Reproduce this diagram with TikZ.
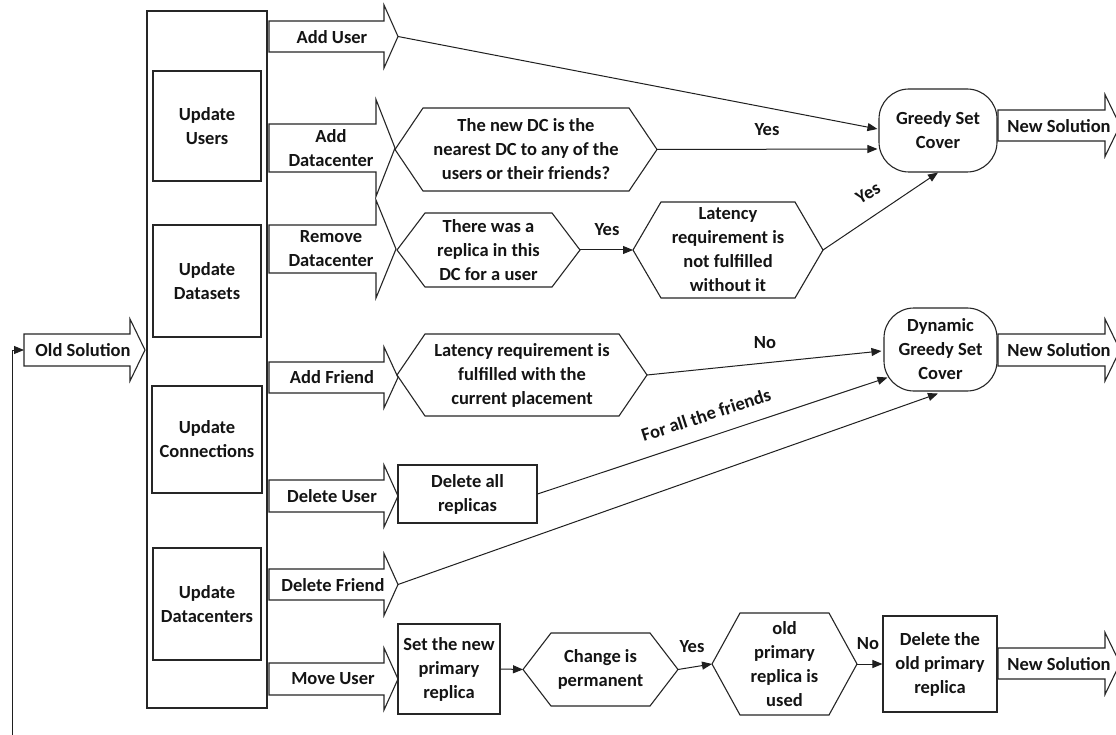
\documentclass[tikz,border=0pt]{standalone}
\usepackage{fontspec}
\setmainfont{Carlito}
\usetikzlibrary{arrows.meta,calc}
\newcommand\blkarrow[7]{%
  \draw[shp] ({#2},{#5-#6}) -- ({#3},{#5-#6}) -- ({#3},{#5-#7}) -- ({#4},{#5}) -- ({#3},{#5+#7}) -- ({#3},{#5+#6}) -- ({#2},{#5+#6}) -- cycle;
  \coordinate (#1-tip) at ({#4},{#5});
  \coordinate (#1-tail) at ({#2},{#5});
}
\newcommand\myhex[6]{%
  \draw[shp] ({#2},{(#4+#5)/2}) -- ({#2+28},{#4}) -- ({#3-28},{#4}) -- ({#3},{(#4+#5)/2}) -- ({#3-28},{#5}) -- ({#2+28},{#5}) -- cycle;
  \coordinate (#1-l) at ({#2},{(#4+#5)/2});
  \coordinate (#1-r) at ({#3},{(#4+#5)/2});
  \node[lbl] (#1) at ({(#2+#3)/2},{(#4+#5)/2}) {#6};
}
\begin{document}
\begin{tikzpicture}[x=1pt,y=-1pt,
  lbl/.style={font=\fontsize{18.5}{24}\selectfont\bfseries, text=black!92, align=center, inner sep=0pt},
  shp/.style={draw=black!85, line width=1.1pt},
  sbox/.style={lbl, draw=black!85, line width=1.1pt},
  rbox/.style={lbl, draw=black!85, line width=1.1pt, rounded corners=30pt},
  conn/.style={draw=black!88, line width=1pt, -{Triangle[length=10pt,width=8pt]}},
]
\clip (0,0) rectangle (1116,735);
\fill[white] (0,0) rectangle (1116,735);

% left panel
\node[shp, draw, minimum width=120pt, minimum height=697pt, inner sep=0pt] (panel) at (207,359.5) {};
\node[sbox, minimum width=108pt, minimum height=110pt] (uusers) at (207,126) {Update\\Users};
\node[sbox, minimum width=108pt, minimum height=112pt] (udatasets) at (207,281) {Update\\Datasets};
\node[sbox, minimum width=110pt, minimum height=107pt] (uconn) at (207,439.5) {Update\\Connections};
\node[sbox, minimum width=108pt, minimum height=112pt] (udc) at (207,604) {Update\\Datacenters};

% block arrows
\blkarrow{olds}{24}{130}{145}{350}{16}{31}
\node[lbl] (toldsol) at (83,350) {Old Solution};
\blkarrow{addu}{269}{384}{398}{36.5}{15.5}{31.5}
\node[lbl] (taddu) at (332,37) {Add User};
\blkarrow{adddc}{269}{376}{395}{148}{24}{48.5}
\node[lbl] (tadddc) at (331,148) {Add\\Datacenter};
\blkarrow{remdc}{269}{376}{396}{249}{24}{49}
\node[lbl] (tremdc) at (331,249) {Remove\\Datacenter};
\blkarrow{addf}{269}{384}{398}{377.5}{15.5}{30.5}
\node[lbl] (taddf) at (332,377) {Add Friend};
\blkarrow{delu}{269}{384}{398}{496}{16}{31}
\node[lbl] (tdelu) at (332,496) {Delete User};
\blkarrow{delf}{269}{384}{398}{584.5}{15.5}{31}
\node[lbl] (tdelf) at (333,585) {Delete Friend};
\blkarrow{mvu}{269}{384}{398}{679}{16}{31}
\node[lbl] (tmvu) at (333,679) {Move User};
\blkarrow{news1}{998}{1105}{1120}{125.5}{15.5}{31}
\node[lbl] (tnews1) at (1059,126) {New Solution};
\blkarrow{news2}{998}{1105}{1120}{350}{16}{31}
\node[lbl] (tnews2) at (1059,350) {New Solution};
\blkarrow{news3}{998}{1105}{1120}{663.5}{15.5}{31}
\node[lbl] (tnews3) at (1059,664) {New Solution};

% decisions
\myhex{dcq}{395}{657}{108}{191}{The new DC is the\\nearest DC to any of the\\users or their friends?}
\myhex{repq}{397}{580}{213}{287}{There was a\\replica in this\\DC for a user}
\myhex{latq}{633}{823}{202}{298}{Latency\\requirement is\\not fulfilled\\without it}
\myhex{frq}{397}{647}{334}{416}{Latency requirement is\\fulfilled with the\\current placement}
\myhex{chq}{523}{678}{633}{706}{Change is\\permanent}
\myhex{oldq}{712}{857}{613}{715}{old\\primary\\replica is\\used}

% boxes
\node[sbox, minimum width=139pt, minimum height=58pt] (delall) at (467.5,494) {Delete all\\replicas};
\node[sbox, minimum width=102pt, minimum height=90pt] (setp) at (449,669) {Set the new\\primary\\replica};
\node[sbox, minimum width=114pt, minimum height=96pt] (delold) at (940,664) {Delete the\\old primary\\replica};
\node[rbox, minimum width=118pt, minimum height=83pt] (greedy) at (938,130.5) {Greedy Set\\Cover};
\node[rbox, minimum width=113pt, minimum height=83pt] (dyn) at (940.5,349.5) {Dynamic\\Greedy Set\\Cover};

% connectors
\coordinate (fbstart) at (12,740);
\draw[conn] (fbstart) |- (olds-tail);
\draw[conn] (addu-tip) -- ($(greedy.west)+(-1,-1.5)$);
\draw[conn] (dcq-r) -- ($(greedy.west)+(-1,18.5)$);
\draw[conn] (repq-r) -- (latq-l);
\draw[conn] (latq-r) -- (greedy.south);
\draw[conn] (frq-r) -- ($(dyn.west)+(-2,1.5)$);
\draw[conn] (delall.east) -- ($(dyn.south west)+(4,-14)$);
\draw[conn] (delf-tip) -- ($(dyn.south)+(-2.5,2)$);
\draw[conn] (setp.east) -- (chq-l);
\draw[conn] (chq-r) -- (oldq-l);
\draw[conn] (oldq-r) -- (delold.west);

% labels
\node[lbl] (yes1) at (767,130) {Yes};
\node[lbl] (yes2) at (607,230) {Yes};
\node[lbl, rotate=30] (yes3) at (868,193) {Yes};
\node[lbl] (no1) at (765,343) {No};
\node[lbl, rotate=18] (forall) at (706,415) {For all the friends};
\node[lbl] (yes4) at (692,647) {Yes};
\node[lbl] (no2) at (868,644) {No};
\end{tikzpicture}
\end{document}
